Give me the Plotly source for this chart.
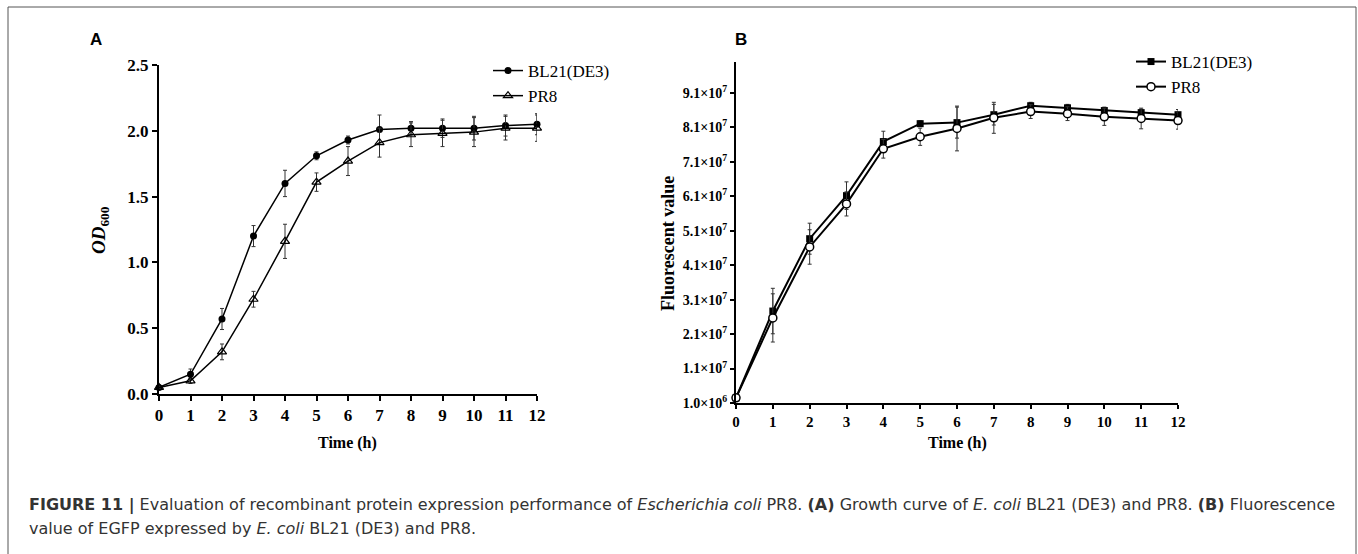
import plotly.graph_objects as go

# ---------------- data ----------------
hours = [0, 1, 2, 3, 4, 5, 6, 7, 8, 9, 10, 11, 12]

od_bl21 = [0.05, 0.15, 0.57, 1.20, 1.60, 1.81, 1.93, 2.01, 2.02, 2.02, 2.02, 2.04, 2.05]
od_bl21_err = [0.01, 0.04, 0.08, 0.08, 0.10, 0.03, 0.03, 0.11, 0.05, 0.07, 0.09, 0.08, 0.08]
od_pr8 = [0.05, 0.10, 0.32, 0.72, 1.16, 1.61, 1.77, 1.91, 1.97, 1.98, 1.99, 2.02, 2.02]
od_pr8_err = [0.01, 0.02, 0.06, 0.06, 0.13, 0.07, 0.11, 0.11, 0.09, 0.10, 0.11, 0.09, 0.10]

fl_bl21 = [2.5e6, 2.77e7, 4.87e7, 6.12e7, 7.69e7, 8.21e7, 8.24e7, 8.47e7, 8.73e7, 8.67e7, 8.59e7, 8.53e7, 8.47e7]
fl_bl21_err = [0.1e7, 0.66e7, 0.45e7, 0.4e7, 0.3e7, 0.08e7, 0.45e7, 0.3e7, 0.1e7, 0.1e7, 0.1e7, 0.1e7, 0.15e7]
fl_pr8 = [2.5e6, 2.57e7, 4.63e7, 5.88e7, 7.48e7, 7.83e7, 8.07e7, 8.38e7, 8.56e7, 8.50e7, 8.41e7, 8.36e7, 8.30e7]
fl_pr8_err = [0.1e7, 0.7e7, 0.5e7, 0.35e7, 0.27e7, 0.25e7, 0.65e7, 0.45e7, 0.2e7, 0.2e7, 0.25e7, 0.3e7, 0.25e7]

od_ticks = [0.0, 0.5, 1.0, 1.5, 2.0, 2.5]
fl_tickvals = [1.0e6, 1.1e7, 2.1e7, 3.1e7, 4.1e7, 5.1e7, 6.1e7, 7.1e7, 8.1e7, 9.1e7]
fl_ticktext = ["1.0×10<sup>6</sup>", "1.1×10<sup>7</sup>", "2.1×10<sup>7</sup>", "3.1×10<sup>7</sup>",
               "4.1×10<sup>7</sup>", "5.1×10<sup>7</sup>", "6.1×10<sup>7</sup>", "7.1×10<sup>7</sup>",
               "8.1×10<sup>7</sup>", "9.1×10<sup>7</sup>"]

series_names = ["BL21(DE3)", "PR8"]

W, H = 1358, 554
SERIF = "Liberation Serif, Times New Roman, serif"
SANS = "Liberation Sans, Arial, sans-serif"
CAP = "DejaVu Sans, sans-serif"


def px_x(p):
    return p / W


def px_y(p):
    return 1 - p / H


fig = go.Figure()

err_style = dict(type="data", thickness=1, width=2, color="#333")

# Panel A
fig.add_trace(go.Scatter(
    x=hours, y=od_bl21, name=series_names[0], mode="lines+markers",
    line=dict(color="black", width=1.5),
    marker=dict(symbol="circle", size=7, color="black"),
    error_y=dict(array=od_bl21_err, **err_style),
    xaxis="x", yaxis="y", legend="legend", cliponaxis=False))
fig.add_trace(go.Scatter(
    x=hours, y=od_pr8, name=series_names[1], mode="lines+markers",
    line=dict(color="black", width=1.5),
    marker=dict(symbol="triangle-up-open", size=8, color="black", line=dict(width=1.2)),
    error_y=dict(array=od_pr8_err, **err_style),
    xaxis="x", yaxis="y", legend="legend", cliponaxis=False))

# Panel B
fig.add_trace(go.Scatter(
    x=hours, y=fl_bl21, name=series_names[0], mode="lines+markers",
    line=dict(color="black", width=2),
    marker=dict(symbol="square", size=7, color="black"),
    error_y=dict(array=fl_bl21_err, **err_style),
    xaxis="x2", yaxis="y2", legend="legend2", cliponaxis=False))
fig.add_trace(go.Scatter(
    x=hours, y=fl_pr8, name=series_names[1], mode="lines+markers",
    line=dict(color="black", width=2),
    marker=dict(symbol="circle", size=8, color="white", line=dict(color="black", width=1.5)),
    error_y=dict(array=fl_pr8_err, **err_style),
    xaxis="x2", yaxis="y2", legend="legend2", cliponaxis=False))

axis_common = dict(showline=True, linecolor="black", linewidth=2, ticks="outside",
                   tickcolor="black", tickwidth=1.5, showgrid=False, zeroline=False,
                   automargin=False)

fig.update_layout(
    width=W, height=H,
    margin=dict(l=0, r=0, t=0, b=0, pad=0, autoexpand=False),
    paper_bgcolor="white", plot_bgcolor="rgba(0,0,0,0)",
    xaxis=dict(domain=[px_x(159), px_x(537)], range=[0, 12], tickvals=hours, ticklen=5,
               tickfont=dict(family=SERIF, size=17, color="black", weight="bold"),
               anchor="y", **axis_common),
    yaxis=dict(domain=[px_y(394), px_y(65)], range=[0, 2.5], tickvals=od_ticks, tickformat=".1f",
               ticklen=5, tickfont=dict(family=SERIF, size=17, color="black", weight="bold"),
               anchor="x", **axis_common),
    xaxis2=dict(domain=[px_x(736), px_x(1178)], range=[0, 12], tickvals=hours, ticklen=4,
                tickfont=dict(family=SERIF, size=15, color="black", weight="bold"),
                anchor="y2", **axis_common),
    yaxis2=dict(domain=[px_y(403), px_y(62)], range=[1.0e6, 1.0e8], tickvals=fl_tickvals,
                ticktext=fl_ticktext, ticklen=4,
                tickfont=dict(family=SERIF, size=14, color="black", weight="bold"),
                anchor="x2", **axis_common),
    legend=dict(x=px_x(488), y=px_y(53), xanchor="left", yanchor="top",
                font=dict(family=SERIF, size=17, color="black"), bgcolor="rgba(0,0,0,0)",
                itemwidth=30, tracegroupgap=0),
    legend2=dict(x=px_x(1131), y=px_y(44), xanchor="left", yanchor="top",
                 font=dict(family=SERIF, size=17, color="black"), bgcolor="rgba(0,0,0,0)",
                 itemwidth=30, tracegroupgap=0),
    showlegend=True,
)

annotations = [
    dict(text="<b>A</b>", x=px_x(96), y=px_y(39), font=dict(family=SANS, size=17, color="black")),
    dict(text="<b>B</b>", x=px_x(741), y=px_y(39), font=dict(family=SANS, size=17, color="black")),
    dict(text="<b><i>OD</i><sub>600</sub></b>", x=px_x(100), y=px_y(230), textangle=-90,
         font=dict(family=SERIF, size=19, color="black")),
    dict(text="<b>Fluorescent value</b>", x=px_x(668), y=px_y(244), textangle=-90,
         font=dict(family=SERIF, size=18, color="black")),
    dict(text="<b>Time (h)</b>", x=px_x(348), y=px_y(443),
         font=dict(family=SERIF, size=16, color="black")),
    dict(text="<b>Time (h)</b>", x=px_x(957), y=px_y(443),
         font=dict(family=SERIF, size=16, color="black")),
    dict(text="<b>FIGURE 11 |</b> Evaluation of recombinant protein expression performance of "
              "<i>Escherichia coli</i> PR8. <b>(A)</b> Growth curve of <i>E. coli</i> BL21 (DE3) and PR8. "
              "<b>(B)</b> Fluorescence",
         x=px_x(27), y=px_y(505), xanchor="left", font=dict(family=CAP, size=16, color="#333")),
    dict(text="value of EGFP expressed by <i>E. coli</i> BL21 (DE3) and PR8.",
         x=px_x(27), y=px_y(528), xanchor="left", font=dict(family=CAP, size=16, color="#333")),
]
for a in annotations:
    a.setdefault("xanchor", "center")
    a.update(xref="paper", yref="paper", yanchor="middle", showarrow=False)
fig.update_layout(annotations=annotations)

fig.add_shape(type="rect", xref="paper", yref="paper",
              x0=px_x(8), x1=px_x(1356), y0=-0.05, y1=px_y(7),
              line=dict(color="#555", width=1), fillcolor="rgba(0,0,0,0)")

fig.write_html("out.html", config={"responsive": False, "displayModeBar": False},
               post_script="document.body.style.margin='0';document.body.style.overflow='hidden';")
